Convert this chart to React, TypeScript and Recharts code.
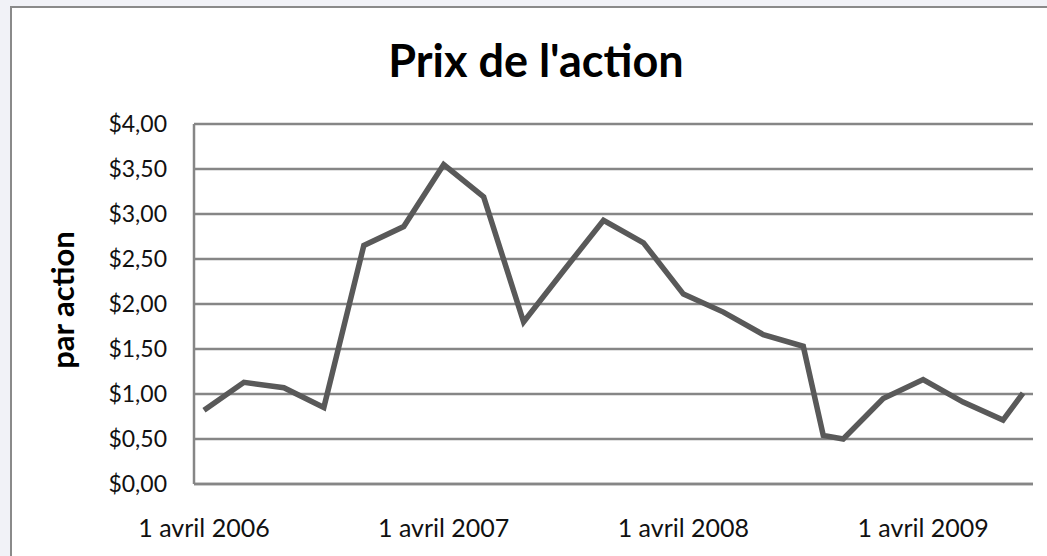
import React from 'react';
import { LineChart, Line, XAxis, YAxis, CartesianGrid } from 'recharts';

const dates = ['2006-04', '2006-06', '2006-08', '2006-10', '2006-12', '2007-02', '2007-04', '2007-06', '2007-08', '2007-10', '2007-12', '2008-02', '2008-04', '2008-06', '2008-08', '2008-10', '2008-11', '2008-12', '2009-02', '2009-04', '2009-06', '2009-08', '2009-09'];
const prices = [0.82, 1.13, 1.07, 0.85, 2.65, 2.86, 3.55, 3.19, 1.8, 2.37, 2.93, 2.68, 2.11, 1.91, 1.66, 1.53, 0.54, 0.5, 0.95, 1.16, 0.91, 0.71, 1.01];
const tickDates = ['2006-04', '2007-04', '2008-04', '2009-04'];
const tickLabels = ['1 avril 2006', '1 avril 2007', '1 avril 2008', '1 avril 2009'];
const yTicks = [0, 0.5, 1, 1.5, 2, 2.5, 3, 3.5, 4];
const title = "Prix de l'action";
const yTitle = 'par action';

const monthIndex = (d: string) => {
  const [y, m] = d.split('-').map(Number);
  return (y - 2006) * 12 + (m - 4);
};

const data = dates.map((d, i) => ({ t: monthIndex(d), price: prices[i] }));
const xTicks = tickDates.map(monthIndex);
const xLabel = (v: number) => tickLabels[xTicks.indexOf(v)] ?? '';
const yLabel = (v: number) => '$' + v.toFixed(2).replace('.', ',');
const xMax = monthIndex(dates[dates.length - 1]);

const FONT = 'Lato, "Open Sans", sans-serif';
const GRID = '#868686';

export default function App() {
  return (
    <div style={{ position: 'absolute', left: 0, top: 0, width: 1047, height: 556, background: '#f1f2f7', overflow: 'hidden' }}>
      <div style={{ position: 'absolute', left: 10, top: 6, width: 1060, height: 580, border: '2px solid #8a8a8a', background: '#ffffff' }} />
      <div style={{ position: 'absolute', left: 0, top: 0 }}>
        <LineChart width={1047} height={556} data={data} margin={{ top: 124, right: 14, bottom: 22, left: 114 }}>
          <CartesianGrid horizontal={true} vertical={false} stroke={GRID} strokeWidth={2.5} />
          <XAxis
            dataKey="t"
            type="number"
            domain={[-0.5, xMax + 0.5]}
            ticks={xTicks}
            tickFormatter={xLabel}
            interval={0}
            height={50}
            axisLine={{ stroke: GRID, strokeWidth: 2.5 }}
            tickLine={false}
            tickSize={0}
            tickMargin={35}
            tick={{ fontFamily: FONT, fontSize: 25, fill: '#111' }}
          />
          <YAxis
            domain={[0, 4]}
            ticks={yTicks}
            tickFormatter={yLabel}
            interval={0}
            width={80}
            axisLine={{ stroke: GRID, strokeWidth: 2.5 }}
            tickLine={false}
            tickSize={0}
            tickMargin={27}
            tick={{ fontFamily: FONT, fontSize: 23, fill: '#111' }}
          />
          <Line type="linear" dataKey="price" stroke="#595959" strokeWidth={5.5} dot={false} isAnimationActive={false} />
        </LineChart>
      </div>
      <svg width={1047} height={556} style={{ position: 'absolute', left: 0, top: 0, pointerEvents: 'none' }}>
        <text x={536} y={77} textAnchor="middle" fontFamily={FONT} fontWeight={700} fontSize={45} fill="#000">{title}</text>
        <text transform="translate(74,300) rotate(-90)" textAnchor="middle" fontFamily={FONT} fontWeight={700} fontSize={31} fill="#000">{yTitle}</text>
      </svg>
    </div>
  );
}
